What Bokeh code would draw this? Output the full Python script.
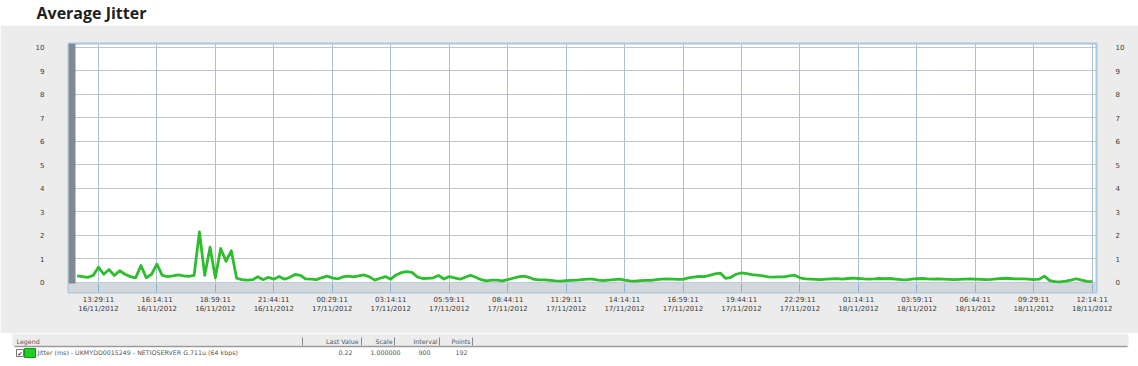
from bokeh.plotting import figure
from bokeh.layouts import column
from bokeh.models import LinearAxis, FixedTicker, BoxAnnotation, Range1d
from bokeh.core.properties import value
from bokeh.embed import file_html
from bokeh.resources import INLINE

# ---------------- data ----------------
title_text = "Average Jitter"
interval_minutes = 15  # 900 s polling interval
# jitter (ms), 192 samples, starting 12:29:11 16/11/2012
jitter_ms = [
    0.28, 0.25, 0.22, 0.30, 0.65, 0.35, 0.55, 0.30, 0.50, 0.35,
    0.25, 0.20, 0.72, 0.20, 0.35, 0.78, 0.30, 0.25, 0.28, 0.32,
    0.28, 0.26, 0.30, 2.15, 0.30, 1.50, 0.20, 1.45, 0.90, 1.35,
    0.18, 0.12, 0.10, 0.12, 0.24, 0.12, 0.22, 0.14, 0.25, 0.14,
    0.22, 0.34, 0.30, 0.15, 0.14, 0.12, 0.20, 0.27, 0.20, 0.15,
    0.24, 0.27, 0.24, 0.28, 0.32, 0.24, 0.10, 0.18, 0.25, 0.14,
    0.32, 0.42, 0.46, 0.43, 0.24, 0.17, 0.18, 0.20, 0.30, 0.15,
    0.25, 0.20, 0.14, 0.22, 0.31, 0.22, 0.12, 0.07, 0.10, 0.10,
    0.07, 0.12, 0.18, 0.24, 0.27, 0.22, 0.13, 0.11, 0.11, 0.09,
    0.07, 0.06, 0.08, 0.09, 0.10, 0.12, 0.14, 0.14, 0.10, 0.08,
    0.10, 0.12, 0.14, 0.10, 0.07, 0.06, 0.08, 0.09, 0.09, 0.12,
    0.14, 0.15, 0.14, 0.13, 0.13, 0.20, 0.23, 0.26, 0.25, 0.30,
    0.37, 0.40, 0.18, 0.22, 0.35, 0.41, 0.38, 0.33, 0.31, 0.28,
    0.24, 0.23, 0.24, 0.24, 0.28, 0.31, 0.20, 0.15, 0.14, 0.13,
    0.12, 0.14, 0.15, 0.16, 0.14, 0.17, 0.19, 0.17, 0.15, 0.14,
    0.15, 0.17, 0.16, 0.17, 0.14, 0.12, 0.11, 0.14, 0.16, 0.17,
    0.15, 0.14, 0.15, 0.14, 0.13, 0.12, 0.13, 0.14, 0.15, 0.14,
    0.13, 0.12, 0.13, 0.15, 0.17, 0.18, 0.16, 0.15, 0.15, 0.14,
    0.12, 0.14, 0.27, 0.08, 0.04, 0.03, 0.06, 0.10, 0.16, 0.10,
    0.05, 0.04,
]
# tick positions in minutes after 12:29:11 16/11/2012
tick_minutes = [60, 225, 390, 555, 720, 885, 1050, 1215, 1380,
                1545, 1710, 1875, 2040, 2205, 2370, 2535, 2700, 2865]
tick_times = ["13:29:11", "16:14:11", "18:59:11", "21:44:11", "00:29:11",
              "03:14:11", "05:59:11", "08:44:11", "11:29:11", "14:14:11",
              "16:59:11", "19:44:11", "22:29:11", "01:14:11", "03:59:11",
              "06:44:11", "09:29:11", "12:14:11"]
tick_dates = ["16/11/2012"] * 4 + ["17/11/2012"] * 9 + ["18/11/2012"] * 5
y_ticks = [0, 1, 2, 3, 4, 5, 6, 7, 8, 9, 10]

legend_title = "Legend"
legend_header = ["Last Value", "Scale", "Interval", "Points"]
legend_series = "Jitter (ms) - UKMYDD0015249 - NETIQSERVER G.711u (64 kbps)"
legend_values = ["0.22", "1.000000", "900", "192"]

# ---------------- layout ----------------
W = 1138
TOP_H, MAIN_H, BOT_H = 25, 308, 33
GREY = "#ececec"
FL, FR, FT, FB = 68, 1096, 18, 267      # frame edges inside main figure
XSTART, XEND = -24.5, 2877.0
YMIN, YMAX = -0.426, 10.17


def strip(h):
    f = figure(width=W, height=h, output_backend="svg", toolbar_location=None,
               x_range=Range1d(0, W), y_range=Range1d(h, 0),
               x_axis_type=None, y_axis_type=None,
               min_border_left=0, min_border_right=0, min_border_top=0, min_border_bottom=0)
    f.grid.visible = False
    f.outline_line_color = None
    f.background_fill_color = "white"
    f.border_fill_color = "white"
    f.margin = 0
    f.frame_align = False
    return f


# ---- title strip ----
top = strip(TOP_H)
top.text(x=[36], y=[1], text=[title_text], text_font=value("Open Sans"),
         text_font_style="bold", text_font_size="16px", text_color="#1e1e1e",
         text_baseline="top", text_align="left")

# ---- main chart ----
x = [i * interval_minutes for i in range(len(jitter_ms))]

p = figure(width=W, height=MAIN_H, output_backend="svg", toolbar_location=None,
           x_range=Range1d(XSTART, XEND), y_range=Range1d(YMIN, YMAX),
           min_border_left=FL, min_border_right=W - FR,
           min_border_top=FT, min_border_bottom=MAIN_H - FB)
p.margin = 0
p.frame_align = False
p.border_fill_color = GREY
p.background_fill_color = "white"
p.outline_line_color = "#a9c8de"
p.outline_line_width = 2

p.xgrid.ticker = FixedTicker(ticks=tick_minutes)
p.ygrid.ticker = FixedTicker(ticks=y_ticks)
p.xgrid.grid_line_color = "#a8c0d6"
p.ygrid.grid_line_color = "#bcc5ce"

# floor band and left wall
p.add_layout(BoxAnnotation(top=0, bottom=YMIN, fill_color="#d3d8dd", fill_alpha=1,
                           line_color="#a9c4dc", line_width=1, level="underlay"))
p.add_layout(BoxAnnotation(left=0, right=7, bottom=FB - 283 + 25, top=FB - FT,
                           left_units="screen", right_units="screen",
                           top_units="screen", bottom_units="screen",
                           fill_color="#7f8a93", fill_alpha=1, line_alpha=0,
                           level="underlay"))

xa = p.xaxis[0]
xa.ticker = FixedTicker(ticks=tick_minutes)
xa.major_label_overrides = {m: f"{t}\n{d}" for m, t, d in zip(tick_minutes, tick_times, tick_dates)}
xa.axis_line_color = None
xa.major_tick_in = 9
xa.major_tick_out = 0
xa.major_tick_line_color = "#8fb2d2"
xa.minor_tick_line_color = None
xa.major_label_text_font = "DejaVu Sans"
xa.major_label_text_font_size = "7px"
xa.major_label_text_color = "#3a3a3a"
xa.major_label_standoff = 3

ya = p.yaxis[0]
ya.ticker = FixedTicker(ticks=y_ticks)
ya.axis_line_color = None
ya.major_tick_line_color = None
ya.minor_tick_line_color = None
ya.major_label_text_font = "DejaVu Sans"
ya.major_label_text_font_size = "7px"
ya.major_label_text_color = "#3a3a3a"
ya.major_label_standoff = 18

ra = LinearAxis(ticker=FixedTicker(ticks=y_ticks))
ra.axis_line_color = None
ra.major_tick_line_color = None
ra.minor_tick_line_color = None
ra.major_label_text_font = "DejaVu Sans"
ra.major_label_text_font_size = "7px"
ra.major_label_text_color = "#3a3a3a"
ra.major_label_standoff = 13
p.add_layout(ra, "right")

p.line(x, jitter_ms, line_color="#2dbd2d", line_width=2.8, line_join="round")

# ---- legend strip ----
bot = strip(BOT_H)
bot.quad(left=[12], right=[1128], top=[0], bottom=[13], fill_color=GREY, line_alpha=0)
bot.segment(x0=[14], y0=[13], x1=[1127], y1=[13], line_color="#9a9a9a", line_width=1.5)

small = dict(text_font=value("DejaVu Sans"), text_font_size="6.3px",
             text_color="#555555", text_baseline="middle")
bot.text(x=[16], y=[8], text=[legend_title], text_align="left", **small)
header_right = [358, 392, 437, 470]
bot.text(x=header_right, y=[8] * len(header_right), text=legend_header,
         text_align="right", **small)
sep_x = [302, 361, 394, 439, 472]
bot.segment(x0=sep_x, y0=[4] * len(sep_x), x1=sep_x, y1=[12] * len(sep_x),
            line_color="#888888", line_width=1)

# checkbox + colour swatch
bot.quad(left=[16], right=[23], top=[16], bottom=[23], fill_color="white",
         line_color="#777777", line_width=1)
bot.text(x=[19.5], y=[19.5], text=["\u2714"], text_align="center",
         text_font=value("DejaVu Sans"), text_font_size="6px",
         text_color="#333333", text_baseline="middle")
bot.quad(left=[24], right=[35], top=[15], bottom=[24], fill_color="#22cc22",
         line_color="#119911", line_width=1)
bot.text(x=[37], y=[19], text=[legend_series], text_align="left", **small)
value_right = [352, 400, 430, 467]
bot.text(x=value_right, y=[19] * len(value_right), text=legend_values,
         text_align="right", **small)

layout = column(top, p, bot, spacing=0)
layout.margin = 0
open("out.html", "w").write(file_html(layout, INLINE))
